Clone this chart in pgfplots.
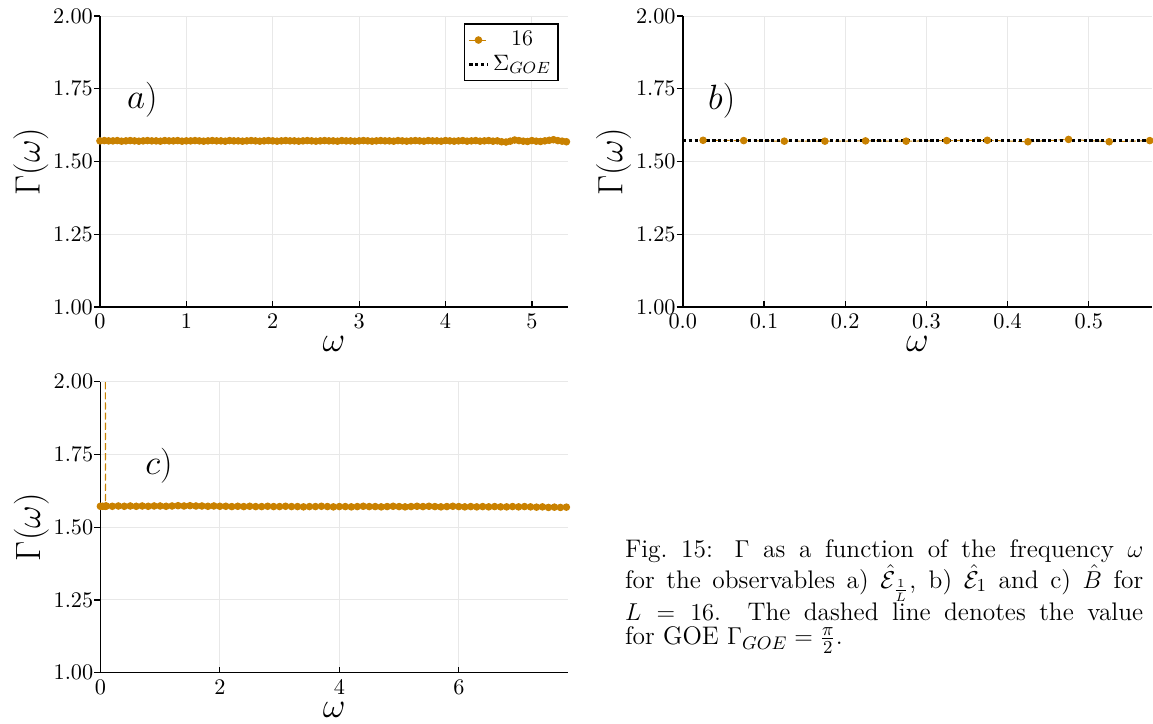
\documentclass[border=0pt]{standalone}
\usepackage{pgfplots}
\pgfplotsset{compat=1.18}
\usepackage{amsmath}
\definecolor{jorange}{RGB}{201,129,0}
\newlength\sgw
\begin{document}
\settowidth{\sgw}{\fontsize{11}{13}\selectfont$\Sigma_{GOE}$}%
\begin{tikzpicture}
\path (0pt,0pt) rectangle (567pt,353.1pt);
\pgfplotsset{
  myax/.style={
    scale only axis,
    axis lines=left, axis line style={-, line width=0.8pt},
    ymin=1, ymax=2, ytick={1,1.25,1.5,1.75,2},
    yticklabel style={/pgf/number format/fixed,/pgf/number format/fixed zerofill,/pgf/number format/precision=2, font=\fontsize{11}{13}\selectfont},
    xticklabel style={font=\fontsize{11}{13}\selectfont},
    grid=major, major grid style={gray!18, line width=0.45pt},
    tick align=inside, major tick length=3pt, tick style={black, line width=0.6pt},
    ytick style={xshift=-3pt},
    xlabel={$\omega$}, ylabel={$\Gamma(\omega)$},
    label style={font=\LARGE},
    xlabel style={at={(axis description cs:0.5,0)}, anchor=center, yshift=-18.2pt},
    ylabel style={at={(axis description cs:0,0.5)}, anchor=center, yshift=34pt},
    clip=true,
    legend image code/.code={\draw[mark repeat=2,mark phase=2,##1] plot coordinates {(0pt,0pt)(4.5pt,0pt)(9pt,0pt)};},
  },
  gser/.style={jorange, densely dashed, line width=0.5pt, mark=*, mark size=1.6pt, mark options={solid, fill=jorange, draw=jorange}},
  goe/.style={black, line width=1.5pt, dash pattern=on 1.6pt off 1.3pt},
}
% ---------- panel a ----------
\begin{axis}[myax, at={(49.2pt,202pt)}, anchor=south west, width=230.4pt, height=143.2pt,
  xmin=0, xmax=5.42, xtick={0,1,2,3,4,5},
  legend style={at={(1,1)}, anchor=north east, xshift=-4.7pt, yshift=-3.6pt, draw=black, line width=0.6pt, font=\fontsize{11}{13}\selectfont, row sep=-1pt, inner sep=1.5pt},
  legend cell align=left]
\addplot[gser] coordinates {
(0.00,1.571)(0.05,1.572)(0.10,1.571)(0.15,1.571)(0.20,1.572)(0.25,1.570)(0.30,1.571)(0.35,1.572)(0.40,1.571)(0.45,1.570)
(0.50,1.571)(0.55,1.572)(0.60,1.571)(0.65,1.571)(0.70,1.570)(0.75,1.572)(0.80,1.571)(0.85,1.571)(0.90,1.572)(0.95,1.570)
(1.00,1.571)(1.05,1.571)(1.10,1.572)(1.15,1.571)(1.20,1.570)(1.25,1.571)(1.30,1.572)(1.35,1.571)(1.40,1.571)(1.45,1.570)
(1.50,1.572)(1.55,1.571)(1.60,1.571)(1.65,1.570)(1.70,1.571)(1.75,1.572)(1.80,1.571)(1.85,1.570)(1.90,1.571)(1.95,1.572)
(2.00,1.571)(2.05,1.570)(2.10,1.571)(2.15,1.572)(2.20,1.571)(2.25,1.571)(2.30,1.570)(2.35,1.571)(2.40,1.572)(2.45,1.571)
(2.50,1.570)(2.55,1.571)(2.60,1.572)(2.65,1.571)(2.70,1.571)(2.75,1.570)(2.80,1.572)(2.85,1.571)(2.90,1.571)(2.95,1.570)
(3.00,1.571)(3.05,1.572)(3.10,1.571)(3.15,1.570)(3.20,1.571)(3.25,1.572)(3.30,1.571)(3.35,1.571)(3.40,1.570)(3.45,1.572)
(3.50,1.571)(3.55,1.570)(3.60,1.571)(3.65,1.572)(3.70,1.571)(3.75,1.570)(3.80,1.572)(3.85,1.571)(3.90,1.571)(3.95,1.570)
(4.00,1.572)(4.05,1.571)(4.10,1.570)(4.15,1.571)(4.20,1.572)(4.25,1.570)(4.30,1.571)(4.35,1.572)(4.40,1.570)(4.45,1.571)
(4.50,1.572)(4.55,1.570)(4.60,1.571)(4.65,1.568)(4.70,1.567)(4.75,1.570)(4.80,1.574)(4.85,1.572)(4.90,1.570)(4.95,1.569)
(5.00,1.572)(5.05,1.570)(5.10,1.569)(5.15,1.571)(5.20,1.573)(5.25,1.575)(5.30,1.572)(5.35,1.570)(5.40,1.568)
};
\addlegendentry{\makebox[\sgw]{16}}
\addplot[goe] coordinates {(0,1.5708)(5.42,1.5708)};
\addlegendentry{$\Sigma_{GOE}$}
\node[font=\fontsize{16}{19}\selectfont] at (axis cs:0.49,1.712) {$a)$};
\end{axis}
% ---------- panel b ----------
\begin{axis}[myax, at={(336pt,202pt)}, anchor=south west, width=231pt, height=143.2pt,
  xmin=0, xmax=0.578, xtick={0,0.1,0.2,0.3,0.4,0.5},
  xticklabel style={/pgf/number format/fixed,/pgf/number format/fixed zerofill,/pgf/number format/precision=1}]
\addplot[gser] coordinates {
(0.025,1.573)(0.075,1.572)(0.125,1.570)(0.175,1.570)(0.225,1.571)(0.275,1.570)(0.325,1.572)(0.375,1.573)(0.425,1.568)(0.475,1.576)(0.525,1.568)(0.575,1.572)
};
\addplot[goe] coordinates {(0,1.5708)(0.578,1.5708)};
\node[font=\fontsize{16}{19}\selectfont] at (axis cs:0.048,1.71) {$b)$};
\end{axis}
% ---------- panel c ----------
\begin{axis}[myax, at={(49.4pt,22.1pt)}, anchor=south west, width=230.2pt, height=143.1pt,
  xmin=0, xmax=7.83, xtick={0,2,4,6}]
\addplot[gser] coordinates {
(0.00,1.572)(0.04,1.572)(0.082,1.572)(0.084,3.0)(0.086,1.572)(0.10,1.573)(0.20,1.572)(0.30,1.573)(0.40,1.572)(0.50,1.573)(0.60,1.572)(0.70,1.573)(0.80,1.572)(0.90,1.573)
(1.00,1.573)(1.10,1.572)(1.20,1.573)(1.30,1.574)(1.40,1.573)(1.50,1.574)(1.60,1.573)(1.70,1.573)(1.80,1.572)(1.90,1.573)
(2.00,1.572)(2.10,1.572)(2.20,1.571)(2.30,1.572)(2.40,1.571)(2.50,1.572)(2.60,1.571)(2.70,1.571)(2.80,1.572)(2.90,1.571)
(3.00,1.571)(3.10,1.572)(3.20,1.571)(3.30,1.571)(3.40,1.570)(3.50,1.571)(3.60,1.571)(3.70,1.572)(3.80,1.571)(3.90,1.570)
(4.00,1.571)(4.10,1.571)(4.20,1.570)(4.30,1.571)(4.40,1.572)(4.50,1.571)(4.60,1.571)(4.70,1.570)(4.80,1.571)(4.90,1.572)
(5.00,1.571)(5.10,1.570)(5.20,1.571)(5.30,1.572)(5.40,1.571)(5.50,1.572)(5.60,1.571)(5.70,1.570)(5.80,1.571)(5.90,1.572)
(6.00,1.571)(6.10,1.570)(6.20,1.571)(6.30,1.570)(6.40,1.571)(6.50,1.570)(6.60,1.571)(6.70,1.570)(6.80,1.570)(6.90,1.571)
(7.00,1.570)(7.10,1.571)(7.20,1.570)(7.30,1.569)(7.40,1.570)(7.50,1.568)(7.60,1.569)(7.70,1.568)(7.80,1.569)
};
\addplot[goe] coordinates {(0,1.5708)(7.83,1.5708)};
\node[font=\fontsize{16}{19}\selectfont] at (axis cs:0.98,1.71) {$c)$};
\end{axis}
% ---------- caption ----------
\node[anchor=north west, text width=255pt, align=justify, inner sep=0pt, font=\fontsize{12.5}{11.8}\selectfont] at (307.4pt,87.6pt)
{\lineskiplimit=-20pt Fig.~15: $\Gamma$ as a function of the frequency $\omega$\linebreak for the observables a) $\hat{\mathcal{E}}_{\frac{1}{L}}$, b) $\hat{\mathcal{E}}_1$ and c) $\hat{B}$ for\linebreak $L=16$. The dashed line denotes the value\linebreak for GOE $\Gamma_{GOE}=\frac{\pi}{2}$.};
\end{tikzpicture}
\end{document}
